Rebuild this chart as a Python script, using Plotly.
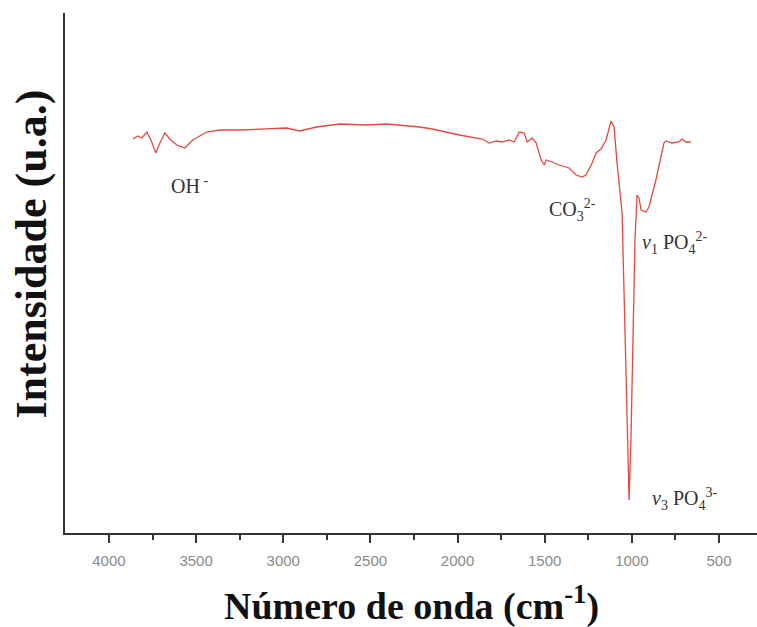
import plotly.graph_objects as go

# Spectrum (wavenumber cm^-1, intensity a.u.)
wavenumber = [3863, 3834, 3811, 3782, 3759, 3731, 3708, 3679, 3651, 3611, 3565, 3519,
              3439, 3364, 3250, 3095, 2981, 2906, 2809, 2677, 2522, 2408, 2334, 2219,
              2145, 1990, 1858, 1818, 1778, 1744, 1704, 1675, 1646, 1618, 1600, 1572,
              1549, 1520, 1503, 1492, 1457, 1417, 1360, 1320, 1285, 1263, 1228, 1205,
              1177, 1148, 1119, 1102, 1085, 1056, 1039, 1027, 1016, 1005, 994, 982,
              970, 959, 947, 919, 902, 862, 816, 804, 770, 730, 713, 690, 661]
intensity = [394, 397, 395, 401, 393, 380, 390, 400, 394, 388, 385, 393,
             401, 403, 403, 404, 405, 402, 406, 409, 408, 409, 408, 406,
             404, 398, 394, 390, 392, 391, 393, 391, 401, 400, 391, 395,
             390, 373, 368, 373, 371, 368, 365, 358, 356, 358, 370, 380,
             384, 393, 412, 406, 370, 320, 200, 95, 33, 95, 200, 293,
             338, 335, 323, 321, 326, 353, 390, 392, 390, 391, 394, 391, 391]

x_ticks = [4000, 3500, 3000, 2500, 2000, 1500, 1000, 500]
x_minor = [3750, 3250, 2750, 2250, 1750, 1250, 750, 250]
x_range = [4252, 282]
y_range = [0, 520]

ann_font = dict(family="Liberation Serif", size=20, color="#333333")

fig = go.Figure()
fig.add_trace(go.Scatter(x=wavenumber, y=intensity, mode="lines",
                         line=dict(color="#e5483f", width=1.3),
                         hoverinfo="skip", showlegend=False))

fig.update_layout(
    width=757, height=627,
    margin=dict(l=65, r=0, t=13, b=94),
    paper_bgcolor="white", plot_bgcolor="white",
    xaxis=dict(range=x_range, tickvals=x_ticks, ticktext=[str(v) for v in x_ticks],
               showgrid=False, zeroline=False, showline=True, linecolor="#333333",
               linewidth=2, ticks="outside", ticklen=8, tickwidth=2, tickcolor="#333333",
               tickfont=dict(family="Liberation Sans", size=15, color="#8a8a8a"),
               ticklabelstandoff=5,
               minor=dict(tickvals=x_minor, ticks="outside", ticklen=5, tickwidth=2,
                          tickcolor="#333333")),
    yaxis=dict(range=y_range, showticklabels=False, ticks="", showgrid=False,
               zeroline=False, showline=True, linecolor="#333333", linewidth=2),
    annotations=[
        dict(x=3540, y=348, xref="x", yref="y", text="OH<sup> -</sup>", showarrow=False, font=ann_font),
        dict(x=1340, y=323, xref="x", yref="y", text="CO<sub>3</sub><sup>2-</sup>", showarrow=False, font=ann_font),
        dict(x=757, y=290, xref="x", yref="y", text="<i>v</i><sub>1</sub> PO<sub>4</sub><sup>2-</sup>", showarrow=False, font=ann_font),
        dict(x=700, y=34, xref="x", yref="y", text="<i>v</i><sub>3</sub> PO<sub>4</sub><sup>3-</sup>", showarrow=False, font=ann_font),
        dict(x=0.5, y=-0.135, xref="paper", yref="paper", yanchor="middle",
             text="<b>Número de onda (cm<sup>-1</sup>)</b>", showarrow=False,
             font=dict(family="Liberation Serif", size=38, color="#111111")),
        dict(x=-0.048, y=0.537, xref="paper", yref="paper", xanchor="center", yanchor="middle",
             text="<b>Intensidade (u.a.)</b>", textangle=-90, showarrow=False,
             font=dict(family="Liberation Serif", size=44, color="#111111")),
    ],
)

fig.write_html("out.html")
